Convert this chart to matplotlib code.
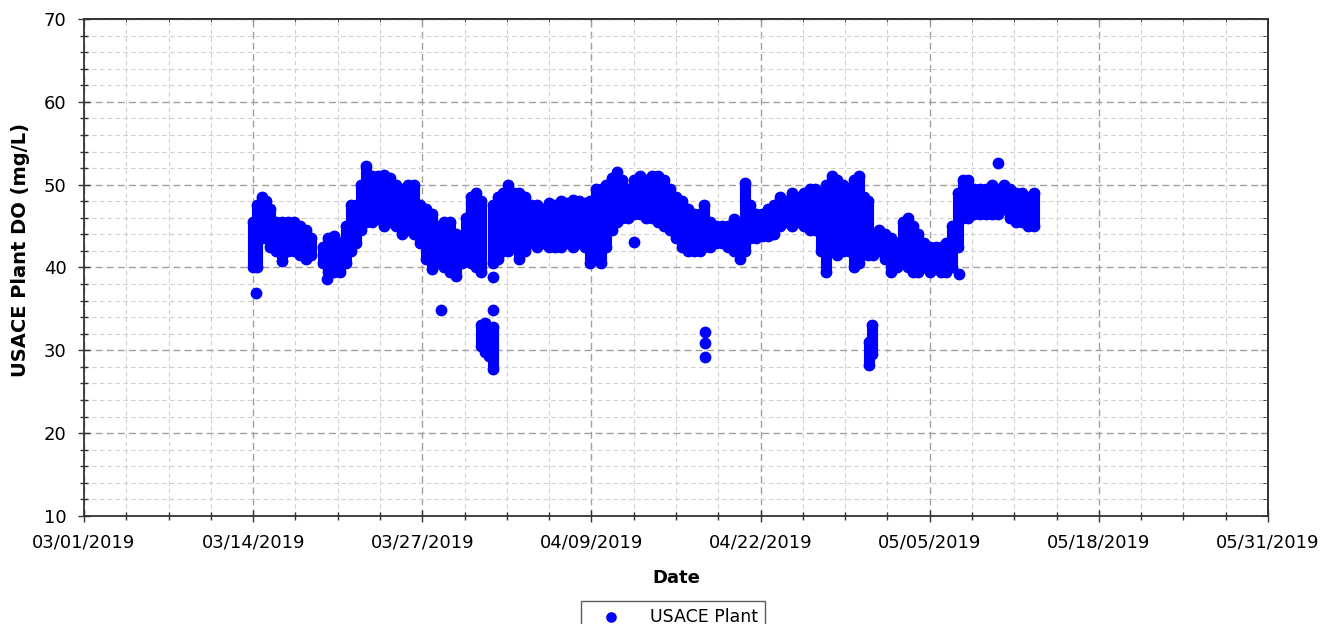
import numpy as np
import matplotlib
matplotlib.use("Agg")
import matplotlib.pyplot as plt
import matplotlib.dates as mdates
from matplotlib.ticker import MultipleLocator, FixedLocator
from datetime import datetime

# days since 03/01/2019, with the low and high DO reading seen in that slice
day = [13.0, 13.3, 13.7, 14.0, 14.3, 14.75, 15.2, 15.7, 16.15, 16.6, 17.05, 17.45,
       18.35, 18.75, 19.2, 19.7, 20.15, 20.5, 20.9, 21.3, 21.7, 22.15, 22.6, 23.05,
       23.5, 24.0, 24.45, 24.9, 25.35, 25.8, 26.3, 26.75, 27.2, 27.65, 28.15, 28.6,
       29.05, 29.35, 29.75, 30.15, 30.5, 30.5, 30.8, 31.1, 31.4, 31.45, 31.8, 32.2,
       32.6, 33.05, 33.45, 33.9, 34.35, 34.8, 35.3, 35.75, 36.2, 36.65, 37.1, 37.6,
       38.05, 38.5, 38.9, 39.35, 39.75, 40.1, 40.6, 40.95, 41.35, 41.8, 42.25, 42.75,
       43.2, 43.65, 44.1, 44.6, 45.05, 45.5, 45.95, 46.45, 46.9, 47.35, 47.65, 48.1,
       48.6, 49.05, 49.5, 49.95, 50.4, 50.8, 51.2, 51.65, 52.1, 52.55, 53.05, 53.5,
       53.95, 54.4, 54.9, 55.35, 55.8, 56.2, 56.65, 57.05, 57.5, 57.9, 58.35, 58.8,
       59.2, 59.55, 59.95, 60.25, 60.3, 60.6, 60.65, 61.1, 61.55, 62.05, 62.5, 62.95,
       63.35, 63.7, 64.1, 64.55, 65.0, 65.5, 65.85, 66.25, 66.7, 67.2, 67.55, 67.95,
       68.4, 68.85, 69.35, 69.8, 70.25, 70.7, 71.2, 71.65, 72.1, 72.55, 73.0]
do_low = [40.0, 40.0, 43.5, 43.5, 42.5, 42.0, 40.8, 42.0, 42.0, 41.5, 41.0, 41.5,
          40.5, 39.5, 39.5, 39.5, 40.5, 42.0, 43.0, 44.5, 45.5, 45.5, 45.8, 45.0,
          45.5, 45.0, 44.0, 44.5, 44.0, 43.0, 41.0, 39.8, 40.5, 40.0, 39.5, 39.0,
          40.5, 41.0, 40.5, 40.0, 39.5, 30.5, 29.8, 29.3, 27.8, 40.5, 41.0, 42.0,
          42.0, 42.5, 41.0, 42.0, 43.0, 42.5, 43.0, 42.5, 42.5, 42.5, 43.0, 42.5,
          43.0, 42.5, 40.5, 41.5, 40.5, 42.5, 44.5, 45.5, 46.0, 46.0, 46.5, 46.5,
          46.0, 46.0, 45.5, 45.0, 44.5, 43.5, 42.5, 42.0, 42.0, 42.0, 42.5, 42.5,
          43.0, 43.0, 42.5, 42.0, 41.0, 42.0, 43.5, 43.5, 43.8, 43.8, 44.0, 45.0,
          45.5, 45.0, 45.5, 45.0, 44.5, 44.5, 42.0, 39.5, 42.0, 41.5, 42.0, 42.0,
          40.0, 40.5, 42.0, 41.5, 28.2, 29.5, 41.5, 42.0, 41.0, 39.5, 40.0, 40.5,
          40.0, 39.5, 39.5, 40.0, 39.5, 40.0, 39.5, 39.5, 40.0, 42.5, 46.0, 46.0,
          46.5, 46.5, 46.5, 46.5, 46.5, 47.0, 46.0, 45.5, 45.5, 45.0, 45.0]
do_high = [45.5, 47.5, 48.5, 48.0, 47.0, 45.5, 45.5, 45.5, 45.5, 45.0, 44.5, 43.5,
           42.5, 43.5, 43.8, 43.0, 45.0, 47.5, 47.5, 50.0, 52.3, 51.0, 51.0, 51.2,
           50.8, 50.0, 49.5, 50.0, 50.0, 47.5, 47.0, 46.5, 45.0, 45.5, 45.5, 44.0,
           43.5, 46.0, 48.5, 49.0, 48.0, 33.0, 33.3, 32.5, 32.8, 47.5, 48.5, 49.0,
           50.0, 49.0, 49.0, 48.5, 47.5, 47.5, 47.0, 47.8, 47.5, 48.0, 47.8, 48.2,
           48.0, 47.8, 48.0, 49.5, 49.5, 50.0, 50.8, 51.5, 50.5, 49.5, 50.5, 51.0,
           50.5, 51.0, 51.0, 50.5, 49.5, 48.5, 48.0, 47.0, 46.5, 46.5, 47.5, 45.5,
           45.0, 45.0, 45.0, 45.8, 44.0, 50.2, 47.5, 46.5, 46.5, 47.0, 47.5, 48.5,
           48.0, 49.0, 48.5, 49.0, 49.5, 49.5, 49.0, 50.0, 51.0, 50.5, 50.0, 49.5,
           50.5, 51.0, 48.5, 48.0, 31.0, 33.0, 44.0, 44.5, 44.0, 43.5, 43.0, 45.5,
           46.0, 45.0, 44.0, 43.0, 42.5, 42.5, 42.5, 43.0, 45.0, 49.0, 50.5, 50.5,
           49.5, 49.5, 49.5, 50.0, 49.5, 50.0, 49.5, 49.0, 49.0, 48.5, 49.0]

# lone readings away from the main band
out_day = [13.2, 18.7, 27.45, 31.45, 31.45, 42.3, 47.7, 47.7, 47.7, 67.25, 70.25]
out_do = [36.9, 38.6, 34.9, 34.9, 38.8, 43.1, 32.2, 30.9, 29.2, 39.2, 52.6]

start = datetime(2019, 3, 1)
base = mdates.date2num(start)
x = base + np.array(day)
xo = base + np.array(out_day)

fig = plt.figure(figsize=(13.31, 6.24), dpi=100)
ax = fig.add_axes([0.0631, 0.1731, 0.8896, 0.7965])

blue = '#0000ff'
vl = ax.vlines(x, do_low, do_high, colors=blue, linewidth=8, zorder=3)
vl.set_capstyle('round')
ax.scatter(x, do_low, s=72, color=blue, linewidths=0, zorder=3)
ax.scatter(x, do_high, s=72, color=blue, linewidths=0, zorder=3)
ax.scatter(xo, out_do, s=72, color=blue, linewidths=0, zorder=3, label='USACE Plant')

ax.set_xlim(base, base + 91)
ax.set_ylim(10, 70)
ax.xaxis.set_major_locator(FixedLocator(base + np.arange(0, 92, 13)))
ax.xaxis.set_minor_locator(FixedLocator(base + np.arange(0, 92, 3.25)))
ax.xaxis.set_major_formatter(mdates.DateFormatter('%m/%d/%Y'))
ax.yaxis.set_major_locator(MultipleLocator(10))
ax.yaxis.set_minor_locator(MultipleLocator(2))

ax.set_axisbelow(True)
ax.grid(which='major', color='#a0a0a0', linestyle=(0, (5, 3)), linewidth=1.0)
ax.grid(which='minor', color='#d0d0d0', linestyle=(0, (4, 3)), linewidth=0.8)

for s in ax.spines.values():
    s.set_color('#333333')
    s.set_linewidth(1.3)

ax.tick_params(which='major', direction='inout', length=9, width=1, color='#333333',
               labelsize=13, pad=8)
ax.tick_params(which='minor', direction='inout', length=6, width=1, color='#333333')

# top and right ticks point inward
top = ax.secondary_xaxis('top')
top.xaxis.set_major_locator(FixedLocator(base + np.arange(0, 92, 13)))
top.xaxis.set_minor_locator(FixedLocator(base + np.arange(0, 92, 3.25)))
top.tick_params(which='both', direction='in', labeltop=False, color='#333333')
top.tick_params(which='major', length=4)
top.tick_params(which='minor', length=3)
right = ax.secondary_yaxis('right')
right.yaxis.set_major_locator(MultipleLocator(10))
right.yaxis.set_minor_locator(MultipleLocator(2))
right.tick_params(which='both', direction='in', labelright=False, color='#333333')
right.tick_params(which='major', length=5)
right.tick_params(which='minor', length=4)
for sec in (top, right):
    for s in sec.spines.values():
        s.set_color('#333333')
        s.set_linewidth(1.3)

ax.set_xlabel('Date', fontsize=13, fontweight='bold', labelpad=13)
ax.set_ylabel('USACE Plant DO (mg/L)', fontsize=14, fontweight='bold')
ax.yaxis.set_label_coords(-0.046, 0.535)

leg = ax.legend(loc='upper center', bbox_to_anchor=(0.5056, 1 - 601 / 624),
                bbox_transform=fig.transFigure, fontsize=12.5, frameon=True,
                fancybox=False, edgecolor='#333333', handlelength=2.65,
                handletextpad=0.92, borderpad=0.4, borderaxespad=0,
                markerscale=0.9)
leg.get_frame().set_linewidth(1.0)

fig.savefig('out.png', dpi=100)
